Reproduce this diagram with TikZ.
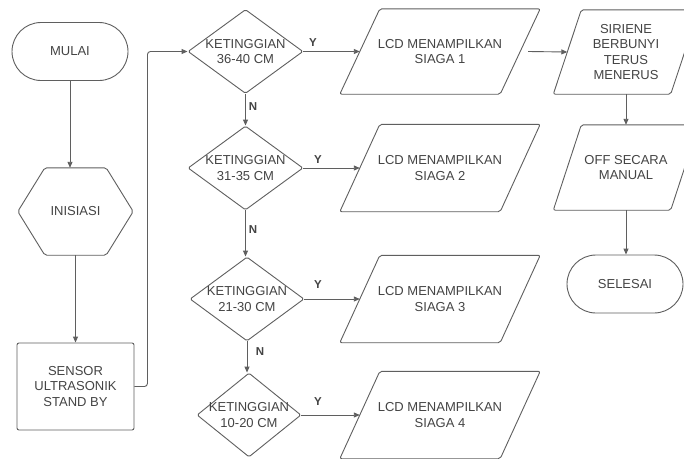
\documentclass[tikz,border=0pt]{standalone}
\usepackage{fontspec}
\setmainfont{Liberation Sans}
\usetikzlibrary{shapes.geometric,arrows.meta}
\definecolor{ln}{HTML}{5F5F5F}
\definecolor{tx}{HTML}{444444}
\tikzset{
 shp/.style={draw=ln, line width=0.9pt},
 txt/.style={text=tx, font=\fontsize{13}{15.5}\selectfont, align=center, inner sep=0pt},
 term/.style={shp, txt, rectangle, rounded corners=29pt, minimum width=116pt, minimum height=58pt},
 boxnode/.style={shp, txt, rectangle, rounded corners=2pt, minimum width=117pt, minimum height=87pt},
 ghost/.style={txt, rectangle, draw=none},
 dia/.style={shp, diamond, inner sep=0pt, rounded corners=1.5pt},
 arr/.style={draw=ln, line width=0.9pt, -{Triangle[length=6pt,width=5pt]}},
 lbl/.style={text=tx, font=\fontsize{11.5}{13}\selectfont\bfseries, inner sep=0pt},
}
\newcommand{\paral}[2]{\draw[shp, rounded corners=2pt] ([xshift=-#2pt]#1.south west) -- ([xshift=#2pt]#1.north west) -- ([xshift=#2pt]#1.north east) -- ([xshift=-#2pt]#1.south east) -- cycle;}
\begin{document}
\begin{tikzpicture}[x=1pt, y=-1pt]
\clip (0,0) rectangle (684,458);
\fill[white] (0,0) rectangle (684,458);

% left column
\node[term] (start) at (70,51.5) {MULAI};
\node[ghost, minimum width=115pt, minimum height=87pt] (init) at (75.5,211.5) {INISIASI};
\draw[shp, rounded corners=2pt] (init.west) -- ([xshift=27pt]init.north west) -- ([xshift=-27pt]init.north east) -- (init.east) -- ([xshift=-27pt]init.south east) -- ([xshift=27pt]init.south west) -- cycle;
\node[boxnode] (sensor) at (75.5,386.5) {SENSOR\\ULTRASONIK\\STAND BY};

% decisions
\node[dia, minimum width=115pt, minimum height=84pt] (d1) at (245.5,51.5) {};
\node[txt] (d1t) at (d1) {KETINGGIAN\\36-40 CM};
\node[dia, minimum width=115pt, minimum height=84pt] (d2) at (245.5,168) {};
\node[txt] (d2t) at (d2) {KETINGGIAN\\31-35 CM};
\node[dia, minimum width=114pt, minimum height=84pt] (d3) at (247,299) {};
\node[txt] (d3t) at (d3) {KETINGGIAN\\21-30 CM};
\node[dia, minimum width=104pt, minimum height=84pt] (d4) at (249,415) {};
\node[txt] (d4t) at (d4) {KETINGGIAN\\10-20 CM};

% outputs
\node[ghost, minimum width=160pt, minimum height=85pt] (lcd1) at (440,51.5) {LCD MENAMPILKAN\\SIAGA 1};
\paral{lcd1}{20}
\node[ghost, minimum width=160pt, minimum height=87pt] (lcd2) at (440,168) {LCD MENAMPILKAN\\SIAGA 2};
\paral{lcd2}{20}
\node[ghost, minimum width=160pt, minimum height=87pt] (lcd3) at (440,299) {LCD MENAMPILKAN\\SIAGA 3};
\paral{lcd3}{20}
\node[ghost, minimum width=160pt, minimum height=87pt] (lcd4) at (440,415) {LCD MENAMPILKAN\\SIAGA 4};
\paral{lcd4}{20}

% right column
\node[ghost, minimum width=117pt, minimum height=84pt] (sir) at (626,52) {SIRIENE\\BERBUNYI\\TERUS\\MENERUS};
\paral{sir}{14}
\node[ghost, minimum width=117pt, minimum height=85pt] (off) at (626,167.5) {OFF SECARA\\MANUAL};
\paral{off}{14}
\node[term] (sel) at (625,284) {SELESAI};

% connectors
\draw[arr] (start.south) -- (start.south |- init.north);
\draw[arr] (init.south) -- (init.south |- sensor.north);
\draw[arr, rounded corners=3pt] (sensor.east) -- ++(13,0) |- (d1.west);
\draw[arr] (d1.south) -- (d2.north);
\draw[arr] (d2.south) -- (d2.south |- d3.north);
\draw[arr] (d3.south) -- (d3.south |- d4.north);
\draw[arr] (d1.east) -- (d1.east -| lcd1.west);
\draw[arr] (d2.east) -- (d2.east -| lcd2.west);
\draw[arr] (d3.east) -- (d3.east -| lcd3.west);
\draw[arr] (d4.east) -- (d4.east -| lcd4.west);
\draw[arr] ([xshift=8pt]lcd1.east) -- (sir.west);
\draw[arr] (sir.south) -- (sir.south |- off.north);
\draw[arr] (off.south) -- (off.south |- sel.north);

% labels
\node[lbl] (n1) at (253,107) {N};
\node[lbl] (n2) at (253,230) {N};
\node[lbl] (n3) at (260,352) {N};
\node[lbl] (y1) at (313,43) {Y};
\node[lbl] (y2) at (318,160) {Y};
\node[lbl] (y3) at (318,285) {Y};
\node[lbl] (y4) at (318,402) {Y};
\end{tikzpicture}
\end{document}
